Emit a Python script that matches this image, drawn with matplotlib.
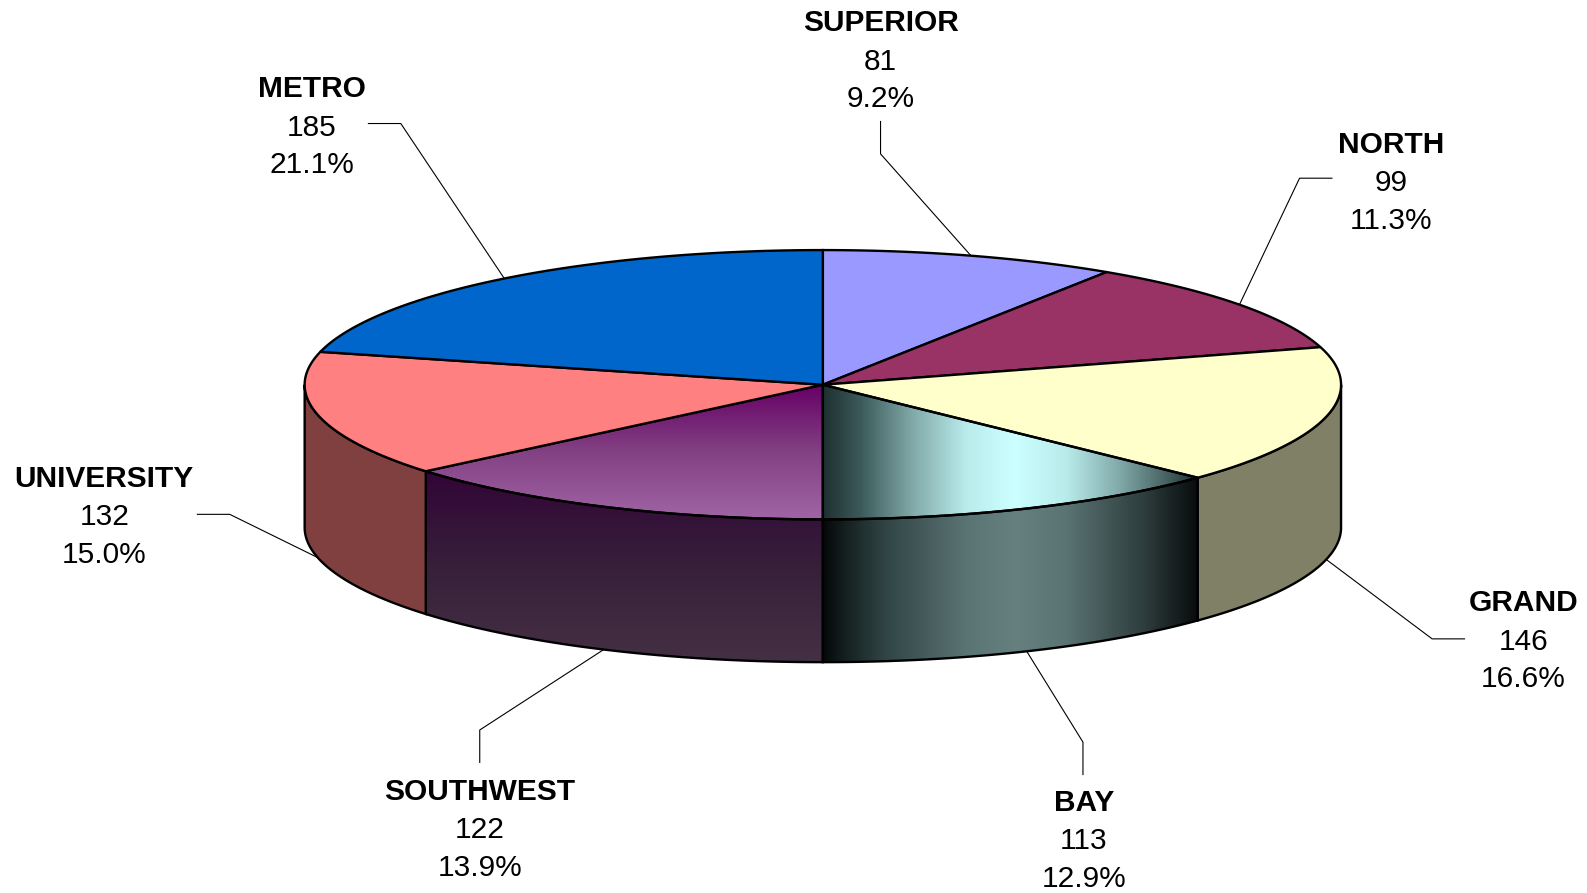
import numpy as np
import matplotlib
matplotlib.use('Agg')
import matplotlib.pyplot as plt
from matplotlib.patches import Polygon

plt.rcParams['font.family'] = ['Liberation Sans', 'DejaVu Sans']

names = ['SUPERIOR', 'NORTH', 'GRAND', 'BAY', 'SOUTHWEST', 'UNIVERSITY', 'METRO']
counts = [81, 99, 146, 113, 122, 132, 185]
percents = ['9.2%', '11.3%', '16.6%', '12.9%', '13.9%', '15.0%', '21.1%']
top_colors = ['#9999FF', '#993366', '#FFFFCC', '#CCFFFF', '#660066', '#FF8080', '#0066CC']
side_colors = ['#4C4C80', '#4D1A33', '#808066', '#667F7F', '#330033', '#804040', '#003366']

# label centre (x, y of name line) and the elbow of each leader line
label_pos = [(870, 23), (1374, 143), (1505, 596), (1071, 793), (474, 782), (103, 473), (308, 88)]
elbows = [[(870, 120), (870, 152)], [(1316, 176), (1284, 176)], [(1447, 631), (1415, 631)],
          [(1070, 765), (1070, 733)], [(474, 753), (474, 721)], [(195, 508), (227, 508)],
          [(364, 122), (396, 122)]]

cx, cy, rx, ry, depth = 813, 380, 512, 133, 141

fig = plt.figure(figsize=(15.87, 8.93), dpi=100)
ax = fig.add_axes([0, 0, 1, 1])
ax.set_xlim(0, 1568)
ax.set_ylim(882, 0)
ax.axis('off')


def rim(deg, drop=0):
    t = np.radians(deg)
    return cx + rx * np.sin(t), cy - ry * np.cos(t) + drop


def arc(a0, a1, drop=0):
    ts = np.linspace(a0, a1, 120)
    return np.column_stack(rim(ts, drop))


def gradient_fill(poly, stops, horizontal):
    # paint a linear gradient and clip it to the polygon
    xs, ys = poly[:, 0], poly[:, 1]
    pos = np.linspace(0, 1, 400)
    where = [s[0] for s in stops]
    img = np.stack([np.interp(pos, where, [s[1][i] / 255 for s in stops]) for i in range(3)], axis=-1)
    img = img[np.newaxis, :, :] if horizontal else img[:, np.newaxis, :]
    im = ax.imshow(img, extent=(xs.min(), xs.max(), ys.max(), ys.min()), aspect='auto', zorder=3)
    clip = Polygon(poly, closed=True, transform=ax.transData)
    im.set_clip_path(clip)


top_stops = {
    3: ([(0, (30, 48, 48)), (0.1, (60, 90, 90)), (0.24, (130, 170, 170)), (0.38, (185, 235, 235)),
         (0.51, (204, 255, 255)), (0.65, (185, 235, 235)), (0.79, (130, 170, 170)),
         (0.93, (65, 90, 90)), (1, (30, 48, 48))], True),
    4: ([(0, (102, 0, 102)), (0.5, (130, 65, 130)), (1, (160, 100, 165))], False),
}
side_stops = {
    3: ([(0, (5, 8, 8)), (0.055, (20, 30, 30)), (0.17, (50, 70, 70)), (0.38, (90, 115, 115)),
         (0.51, (102, 127, 127)), (0.65, (90, 115, 115)), (0.86, (45, 60, 60)), (1, (8, 12, 12))], True),
    4: ([(0, (50, 5, 55)), (0.5, (55, 32, 58)), (1, (68, 48, 68))], False),
}

fractions = np.array(counts) / sum(counts)
edges = np.concatenate([[0], np.cumsum(fractions) * 360])
mids = (edges[:-1] + edges[1:]) / 2

for i in range(len(names)):
    a0, a1 = edges[i], edges[i + 1]

    # side wall, only the front half of the disc shows
    s0, s1 = max(a0, 90), min(a1, 270)
    if s0 < s1:
        side = np.vstack([arc(s0, s1), arc(s1, s0, depth)])
        if i in side_stops:
            gradient_fill(side, *side_stops[i])
            ax.add_patch(Polygon(side, closed=True, fill=False, ec='black', lw=1.7, zorder=4))
        else:
            ax.add_patch(Polygon(side, closed=True, fc=side_colors[i], ec='black', lw=1.7, zorder=4))

    # top face
    top = np.vstack([[(cx, cy)], arc(a0, a1)])
    if i in top_stops:
        gradient_fill(top, *top_stops[i])
        ax.add_patch(Polygon(top, closed=True, fill=False, ec='black', lw=1.7, zorder=5))
    else:
        ax.add_patch(Polygon(top, closed=True, fc=top_colors[i], ec='black', lw=1.7, zorder=5))

    # leader line runs to the rim at the middle of the slice
    drop = depth if 90 < mids[i] < 270 else 0
    ex, ey = rim(mids[i], drop)
    line = np.array(elbows[i] + [(ex, ey)])
    ax.plot(line[:, 0], line[:, 1], color='black', lw=0.8, zorder=2)

    lx, ly = label_pos[i]
    ax.text(lx, ly, names[i], ha='center', va='center', fontsize=21.5, fontweight='bold', color='black')
    ax.text(lx, ly + 38, str(counts[i]), ha='center', va='center', fontsize=21.5, color='black')
    ax.text(lx, ly + 75, percents[i], ha='center', va='center', fontsize=21.5, color='black')

ax.set_xlim(0, 1568)
ax.set_ylim(882, 0)
fig.savefig('out.png', dpi=100, facecolor='white')
